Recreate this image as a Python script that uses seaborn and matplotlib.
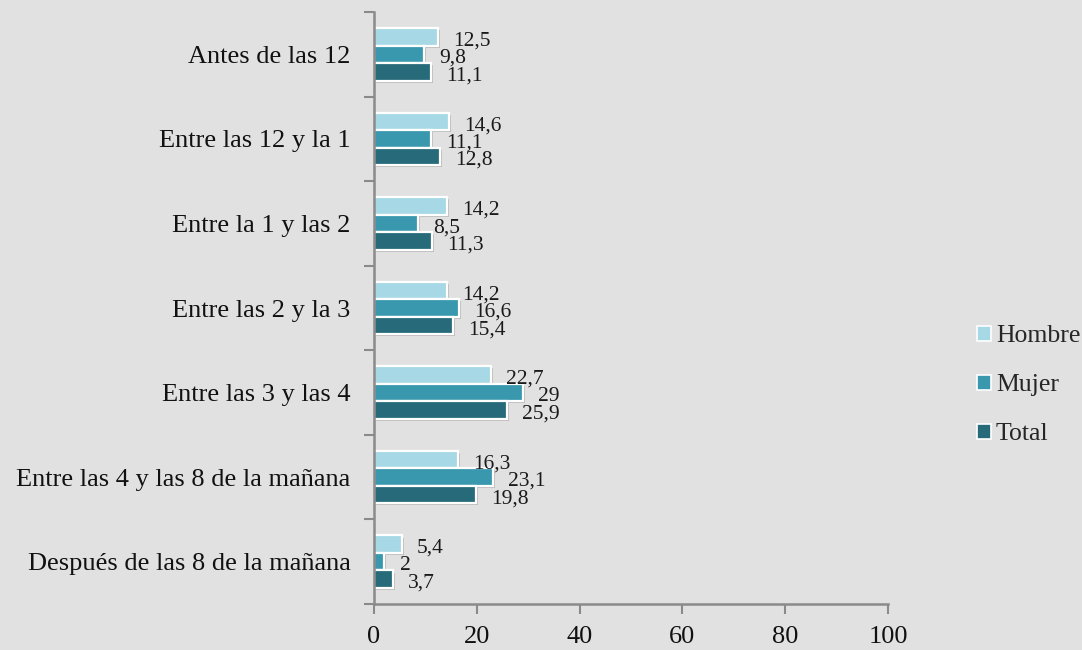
import matplotlib
matplotlib.use("Agg")
import matplotlib.pyplot as plt
import matplotlib.patheffects as pe
from matplotlib.patches import Patch
import seaborn as sns
import pandas as pd

categories = ["Antes de las 12", "Entre las 12 y la 1", "Entre la 1 y las 2",
              "Entre las 2 y la 3", "Entre las 3 y las 4",
              "Entre las 4 y las 8 de la mañana", "Después de las 8 de la mañana"]
series = ["Hombre", "Mujer", "Total"]
hombre = [12.5, 14.6, 14.2, 14.2, 22.7, 16.3, 5.4]
mujer = [9.8, 11.1, 8.5, 16.6, 29, 23.1, 2]
total = [11.1, 12.8, 11.3, 15.4, 25.9, 19.8, 3.7]
label_text = {
    "Hombre": ["12,5", "14,6", "14,2", "14,2", "22,7", "16,3", "5,4"],
    "Mujer": ["9,8", "11,1", "8,5", "16,6", "29", "23,1", "2"],
    "Total": ["11,1", "12,8", "11,3", "15,4", "25,9", "19,8", "3,7"],
}
xticks = [0, 20, 40, 60, 80, 100]

colors = ["#a6d9e5", "#3a98ae", "#276b7b"]
bg = "#e1e1e1"

rows = []
for name, vals in zip(series, [hombre, mujer, total]):
    for c, v in zip(categories, vals):
        rows.append({"cat": c, "serie": name, "valor": v})
df = pd.DataFrame(rows)

sns.set_theme(style="white")
plt.rcParams["font.family"] = ["Liberation Serif", "DejaVu Serif"]

fig = plt.figure(figsize=(10.82, 6.5), dpi=100, facecolor=bg)
ax = fig.add_axes([0.3457, 0.0708, 0.8207 - 0.3457, 0.9815 - 0.0708])
ax.set_facecolor(bg)

sns.barplot(data=df, y="cat", x="valor", hue="serie", order=categories,
            hue_order=series, palette=colors, saturation=1, orient="h", width=0.62,
            edgecolor="white", linewidth=1.6, legend=False, ax=ax)

shadow = [pe.SimplePatchShadow(offset=(1.5, -1.5), shadow_rgbFace="#777777", alpha=0.35), pe.Normal()]
for cont, name in zip(ax.containers, series):
    for bar, txt in zip(cont, label_text[name]):
        bar.set_path_effects(shadow)
        w = bar.get_width()
        yc = bar.get_y() + bar.get_height() / 2
        ax.annotate(txt, xy=(w, yc), xytext=(11, -3), textcoords="offset points",
                    ha="left", va="center", fontsize=15.5, color="#1a1a1a")

ax.set_xlim(0, 100)
ax.set_xticks(xticks)
ax.set_xticklabels([str(t) for t in xticks], fontsize=19, color="#111111")
ax.set_ylim(len(categories) - 0.5, -0.5)
ax.set_yticks(range(len(categories)))
ax.set_yticklabels(categories, fontsize=19, color="#111111")
ax.set_yticks([i - 0.5 for i in range(len(categories) + 1)], minor=True)
ax.tick_params(axis="y", which="major", length=0, pad=17, left=False)
ax.tick_params(axis="y", which="minor", length=7, width=1.5, color="#8a8a8a",
               direction="out", left=True)
ax.tick_params(axis="x", which="major", length=7, width=1.5, color="#8a8a8a",
               direction="out", pad=9, bottom=True)
ax.set_xlabel("")
ax.set_ylabel("")
for s in ["top", "right"]:
    ax.spines[s].set_visible(False)
for s in ["left", "bottom"]:
    ax.spines[s].set_color("#8a8a8a")
    ax.spines[s].set_linewidth(1.8)

handles = [Patch(facecolor=c, edgecolor="white", linewidth=1.2, label=n) for c, n in zip(colors, series)]
fig.legend(handles=handles, loc="center left", bbox_to_anchor=(0.886, 0.407),
           frameon=False, fontsize=18.5, handlelength=0.55, handleheight=0.55,
           handletextpad=0.2, labelspacing=1.05, borderpad=0.2)

fig.savefig("out.png", dpi=100, facecolor=bg)
